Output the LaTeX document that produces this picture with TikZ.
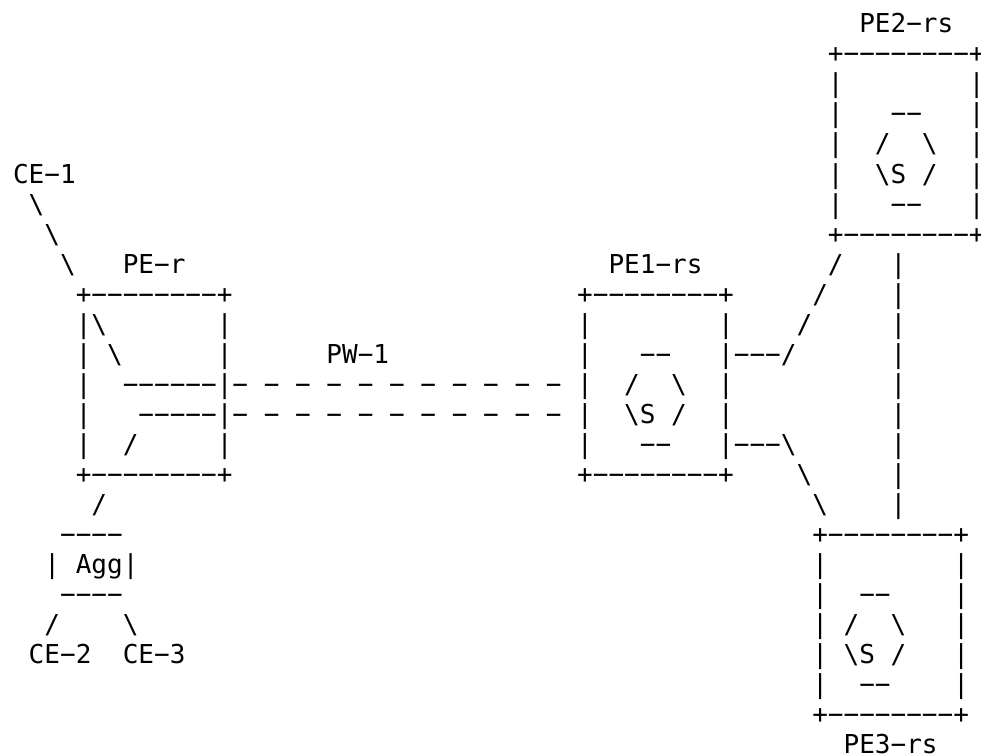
\documentclass[tikz,border=0pt]{standalone}
\usepackage{fontspec}
\setmonofont{DejaVu Sans Mono}
\newcommand{\bs}{\textbackslash}
\tikzset{ascii/.style={anchor=base west,inner sep=0pt,outer sep=0pt,font=\ttfamily\fontsize{26.03}{30}\selectfont}}

\begin{document}
\begin{tikzpicture}
  \useasboundingbox (0pt,0pt) rectangle (981pt,-754pt);
  \begin{scope}[shift={(-2.6pt,-33pt)},x=15.67pt,y=-30pt]
  % Switch boxes
  \foreach \boxid/\col/\row in {petwo/53/1,peone/37/9} {
    \foreach \txt [count=\i from 0] in {+−−−−−−−−+,|~~~~~~~~|,|~~~−−~~~|,|~~/~~\bs~~|,|~~\bs S~/~~|,|~~~−−~~~|,+−−−−−−−−+}
      \node[ascii] (\boxid-\i) at (\col,\row+\i) {\txt};
  }
  \foreach \txt [count=\i from 0] in {+−−−−−−−−+,|~~~~~~~~|,|~~−−~~~~|,|~/~~\bs~~~|,|~\bs S~/~~~|,|~~−−~~~~|,+−−−−−−−−+}
    \node[ascii] (pethree-\i) at (52,17+\i) {\txt};

  % PE-r box
  \foreach \txt [count=\i from 0] in {+−−−−−−−−+,|\bs~~~~~~~|,|~\bs~~~~~~|,|~~−−−−−−|,|~~~−−−−−|,|~~/~~~~~|,+−−−−−−−−+}
    \node[ascii] (per-\i) at (5,9+\i) {\txt};

  % Labels
  \node[ascii] (petwolabel) at (55,0)    {PE2−rs};
  \node[ascii] (perlabel) at (8,8)       {PE−r};
  \node[ascii] (peonelabel) at (39,8)    {PE1−rs};
  \node[ascii] (pethreelabel) at (54,24) {PE3−rs};
  \node[ascii] (pwlabel) at (21,11)      {PW−1};
  \node[ascii] (ceone) at (1,5)          {CE−1};
  \node[ascii] (cetwo) at (2,21)         {CE−2};
  \node[ascii] (cethree) at (8,21)       {CE−3};

  % Pseudowires
  \node[ascii] (pwtop) at (15,12) {−~−~−~−~−~−~−~−~−~−~−};
  \node[ascii] (pwbot) at (15,13) {−~−~−~−~−~−~−~−~−~−~−};

  % CE-1 link
  \node[ascii] (cea) at (2,6) {\bs};
  \node[ascii] (ceb) at (3,7) {\bs};
  \node[ascii] (cec) at (4,8) {\bs};

  % Agg
  \node[ascii] (agglink) at (6,16) {/};
  \node[ascii] (aggtop) at (4,17)  {−−−−};
  \node[ascii] (agg) at (3,18)     {|~Agg|};
  \node[ascii] (aggbot) at (4,19)  {−−−−};
  \node[ascii] (aggl) at (3,20)    {/};
  \node[ascii] (aggr) at (8,20)    {\bs};

  % PE1-rs to PE2-rs
  \node[ascii] (upa) at (47,11) {−−−/};
  \node[ascii] (upb) at (51,10) {/};
  \node[ascii] (upc) at (52,9)  {/};
  \node[ascii] (upd) at (53,8)  {/};

  % PE1-rs to PE3-rs
  \node[ascii] (downa) at (47,14) {−−−\bs};
  \node[ascii] (downb) at (51,15) {\bs};
  \node[ascii] (downc) at (52,16) {\bs};

  % PE2-rs to PE3-rs
  \foreach \row in {8,...,16}
    \node[ascii] (vert-\row) at (57,\row) {|};
  \end{scope}
\end{tikzpicture}
\end{document}
